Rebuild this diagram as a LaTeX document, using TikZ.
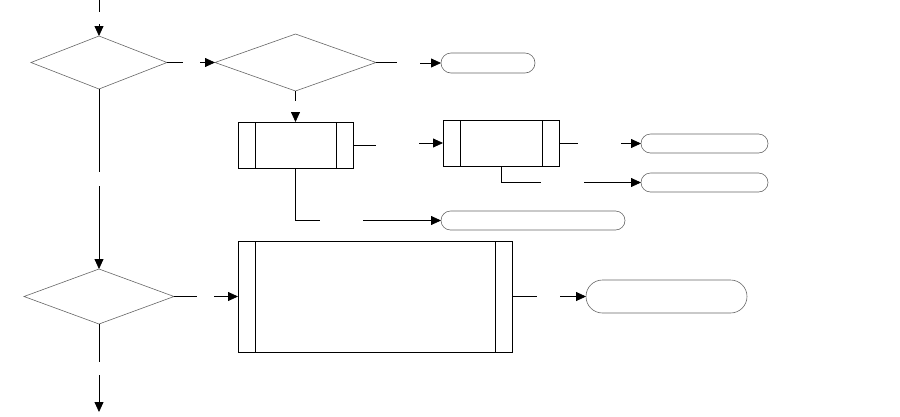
\documentclass[tikz,border=0pt]{standalone}
\usetikzlibrary{positioning, shapes.geometric, shapes.misc, arrows.meta}

\begin{document}
\begin{tikzpicture}[x=1pt, y=-1pt,
                decision/.style={diamond, aspect=1, draw=black!60, line width=0.6pt, inner sep=0pt, outer sep=0pt},
                predef/.style={rectangle, draw, line width=0.8pt, inner sep=0pt, outer sep=0pt,
                    path picture={\draw[line width=0.8pt]
                        ([xshift=17pt]path picture bounding box.north west) -- ([xshift=17pt]path picture bounding box.south west)
                        ([xshift=-17pt]path picture bounding box.north east) -- ([xshift=-17pt]path picture bounding box.south east);}},
                term/.style={rounded rectangle, draw=black!60, line width=0.6pt, inner sep=0pt, outer sep=0pt},
                lin/.style={line width=0.8pt},
                arr/.style={-{Triangle[length=10pt, width=9pt]}, line width=0.8pt}]
                \useasboundingbox (0,0) rectangle (900,416);

                % Decisions
                \node[decision, minimum width=136pt, minimum height=53pt] (d1) at (99,62.5) {};
                \node[decision, minimum width=161pt, minimum height=57pt] (d2) at (295.5,62.5) {};
                \node[decision, minimum width=150pt, minimum height=55pt] (d3) at (99,296.5) {};

                % Predefined processes
                \node[predef, minimum width=115pt, minimum height=46pt] (b1) at (295.5,145) {};
                \node[predef, minimum width=116pt, minimum height=46pt] (b2) at (501,143) {};
                \node[predef, minimum width=274pt, minimum height=111pt] (b3) at (375,296.5) {};

                % Terminals
                \node[term, minimum width=94pt, minimum height=20pt] (t1) at (488,63) {};
                \node[term, minimum width=127pt, minimum height=19pt] (t2) at (704.5,143.5) {};
                \node[term, minimum width=127pt, minimum height=19pt] (t3) at (704.5,182.5) {};
                \node[term, minimum width=184pt, minimum height=19pt] (t4) at (533,220.5) {};
                \node[term, minimum width=161pt, minimum height=33pt] (t5) at (666.5,296.5) {};

                % Gap ends
                \coordinate (in0) at (99,0);
                \coordinate[below=12pt of in0] (in1);
                \coordinate[above=12pt of d1.north] (in2);
                \coordinate[right=16pt of d1.east] (a1);
                \coordinate[left=15pt of d2.west] (a2);
                \coordinate[right=21pt of d2.east] (a3);
                \coordinate[left=21pt of t1.west] (a4);
                \coordinate[below=10pt of d2.south] (a5);
                \coordinate[above=10pt of b1.north] (a6);
                \coordinate[right=23pt of b1.east] (a7);
                \coordinate[left=24pt of b2.west] (a8);
                \coordinate[right=19pt of b2.east] (a9);
                \coordinate[left=20pt of t2.west] (a10);
                \coordinate[left=100pt of t3.west] (a11);
                \coordinate[left=57pt of t3.west] (a12);
                \coordinate[left=121pt of t4.west] (a13);
                \coordinate[left=78pt of t4.west] (a14);
                \coordinate[below=83pt of d1.south] (a15);
                \coordinate[above=83pt of d3.north] (a16);
                \coordinate[right=23pt of d3.east] (a17);
                \coordinate[left=24pt of b3.west] (a18);
                \coordinate[right=25pt of b3.east] (a19);
                \coordinate[left=26pt of t5.west] (a20);
                \coordinate[below=38pt of d3.south] (a21);
                \coordinate[below=51pt of d3.south] (a22);
                \coordinate (out) at (99,412);

                % Connectors
                \draw[lin] (in0) -- (in1);   \draw[arr] (in2) -- (d1.north);
                \draw[lin] (d1.east) -- (a1); \draw[arr] (a2) -- (d2.west);
                \draw[lin] (d2.east) -- (a3); \draw[arr] (a4) -- (t1.west);
                \draw[lin] (d2.south) -- (a5); \draw[arr] (a6) -- (b1.north);
                \draw[lin] (b1.east) -- (a7); \draw[arr] (a8) -- (b2.west);
                \draw[lin] (b2.east) -- (a9); \draw[arr] (a10) -- (t2.west);
                \draw[lin] (b2.south) |- (a11); \draw[arr] (a12) -- (t3.west);
                \draw[lin] (b1.south) |- (a13); \draw[arr] (a14) -- (t4.west);
                \draw[lin] (d1.south) -- (a15); \draw[arr] (a16) -- (d3.north);
                \draw[lin] (d3.east) -- (a17); \draw[arr] (a18) -- (b3.west);
                \draw[lin] (b3.east) -- (a19); \draw[arr] (a20) -- (t5.west);
                \draw[lin] (d3.south) -- (a21); \draw[arr] (a22) -- (out);
            \end{tikzpicture}
\end{document}
